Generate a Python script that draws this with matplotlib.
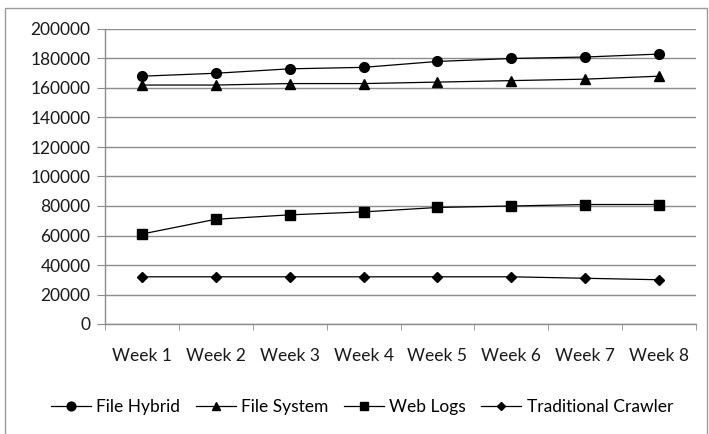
import matplotlib
matplotlib.use("Agg")
import matplotlib.pyplot as plt
from matplotlib.patches import Rectangle

weeks = ["Week 1", "Week 2", "Week 3", "Week 4", "Week 5", "Week 6", "Week 7", "Week 8"]
file_hybrid = [168000, 170000, 173000, 174000, 178000, 180000, 181000, 183000]
file_system = [162000, 162000, 163000, 163000, 164000, 165000, 166000, 168000]
web_logs = [61000, 71000, 74000, 76000, 79000, 80000, 81000, 81000]
traditional_crawler = [32000, 32000, 32000, 32000, 32000, 32000, 31000, 30000]

series = [
    ("File Hybrid", file_hybrid, "o", 7),
    ("File System", file_system, "^", 7),
    ("Web Logs", web_logs, "s", 6.5),
    ("Traditional Crawler", traditional_crawler, "D", 5),
]

plt.rcParams["font.family"] = ["Lato", "DejaVu Sans"]

W, H = 709, 434
fig = plt.figure(figsize=(W / 100, H / 100), dpi=100)
fig.patch.set_facecolor("white")

# chart area border
fig.patches.append(Rectangle((5 / W, -0.05), (702) / W, 1 - 8 / H + 0.05,
                             transform=fig.transFigure, fill=False,
                             edgecolor="#9a9a9a", linewidth=1.0))

ax = fig.add_axes([105 / W, 1 - 324 / H, (696 - 105) / W, (324 - 29) / H])
x = list(range(len(weeks)))
for name, vals, mk, ms in series:
    ax.plot(x, vals, color="black", linewidth=0.9, marker=mk, markersize=ms,
            markerfacecolor="black", markeredgecolor="black", label=name)

ax.set_xlim(-0.5, len(weeks) - 0.5)
ax.set_ylim(0, 200000)
ax.set_yticks(range(0, 200001, 20000))
ax.yaxis.grid(True, color="#8c8c8c", linewidth=1.0)
ax.set_axisbelow(True)

ax.set_xticks(x)
ax.set_xticklabels(weeks, fontsize=12.5)
ax.set_xticks([i - 0.5 for i in range(len(weeks) + 1)], minor=True)
ax.tick_params(axis="x", which="major", length=0, pad=17)
ax.tick_params(axis="x", which="minor", length=4.5, color="#8c8c8c", direction="out")
ax.tick_params(axis="y", length=5.5, color="#8c8c8c", labelsize=12.5, pad=5)
for lab in ax.get_yticklabels() + ax.get_xticklabels():
    lab.set_color("#1a1a1a")

for s in ["top", "right"]:
    ax.spines[s].set_visible(False)
for s in ["left", "bottom"]:
    ax.spines[s].set_color("#8c8c8c")
    ax.spines[s].set_linewidth(1.0)

fig.legend(loc="center", bbox_to_anchor=(362 / W, 1 - 407 / H), ncol=4,
           frameon=False, fontsize=12.5, handlelength=2.3, handletextpad=0.3,
           columnspacing=0.9, markerscale=0.9)

fig.savefig("out.png", dpi=100)
